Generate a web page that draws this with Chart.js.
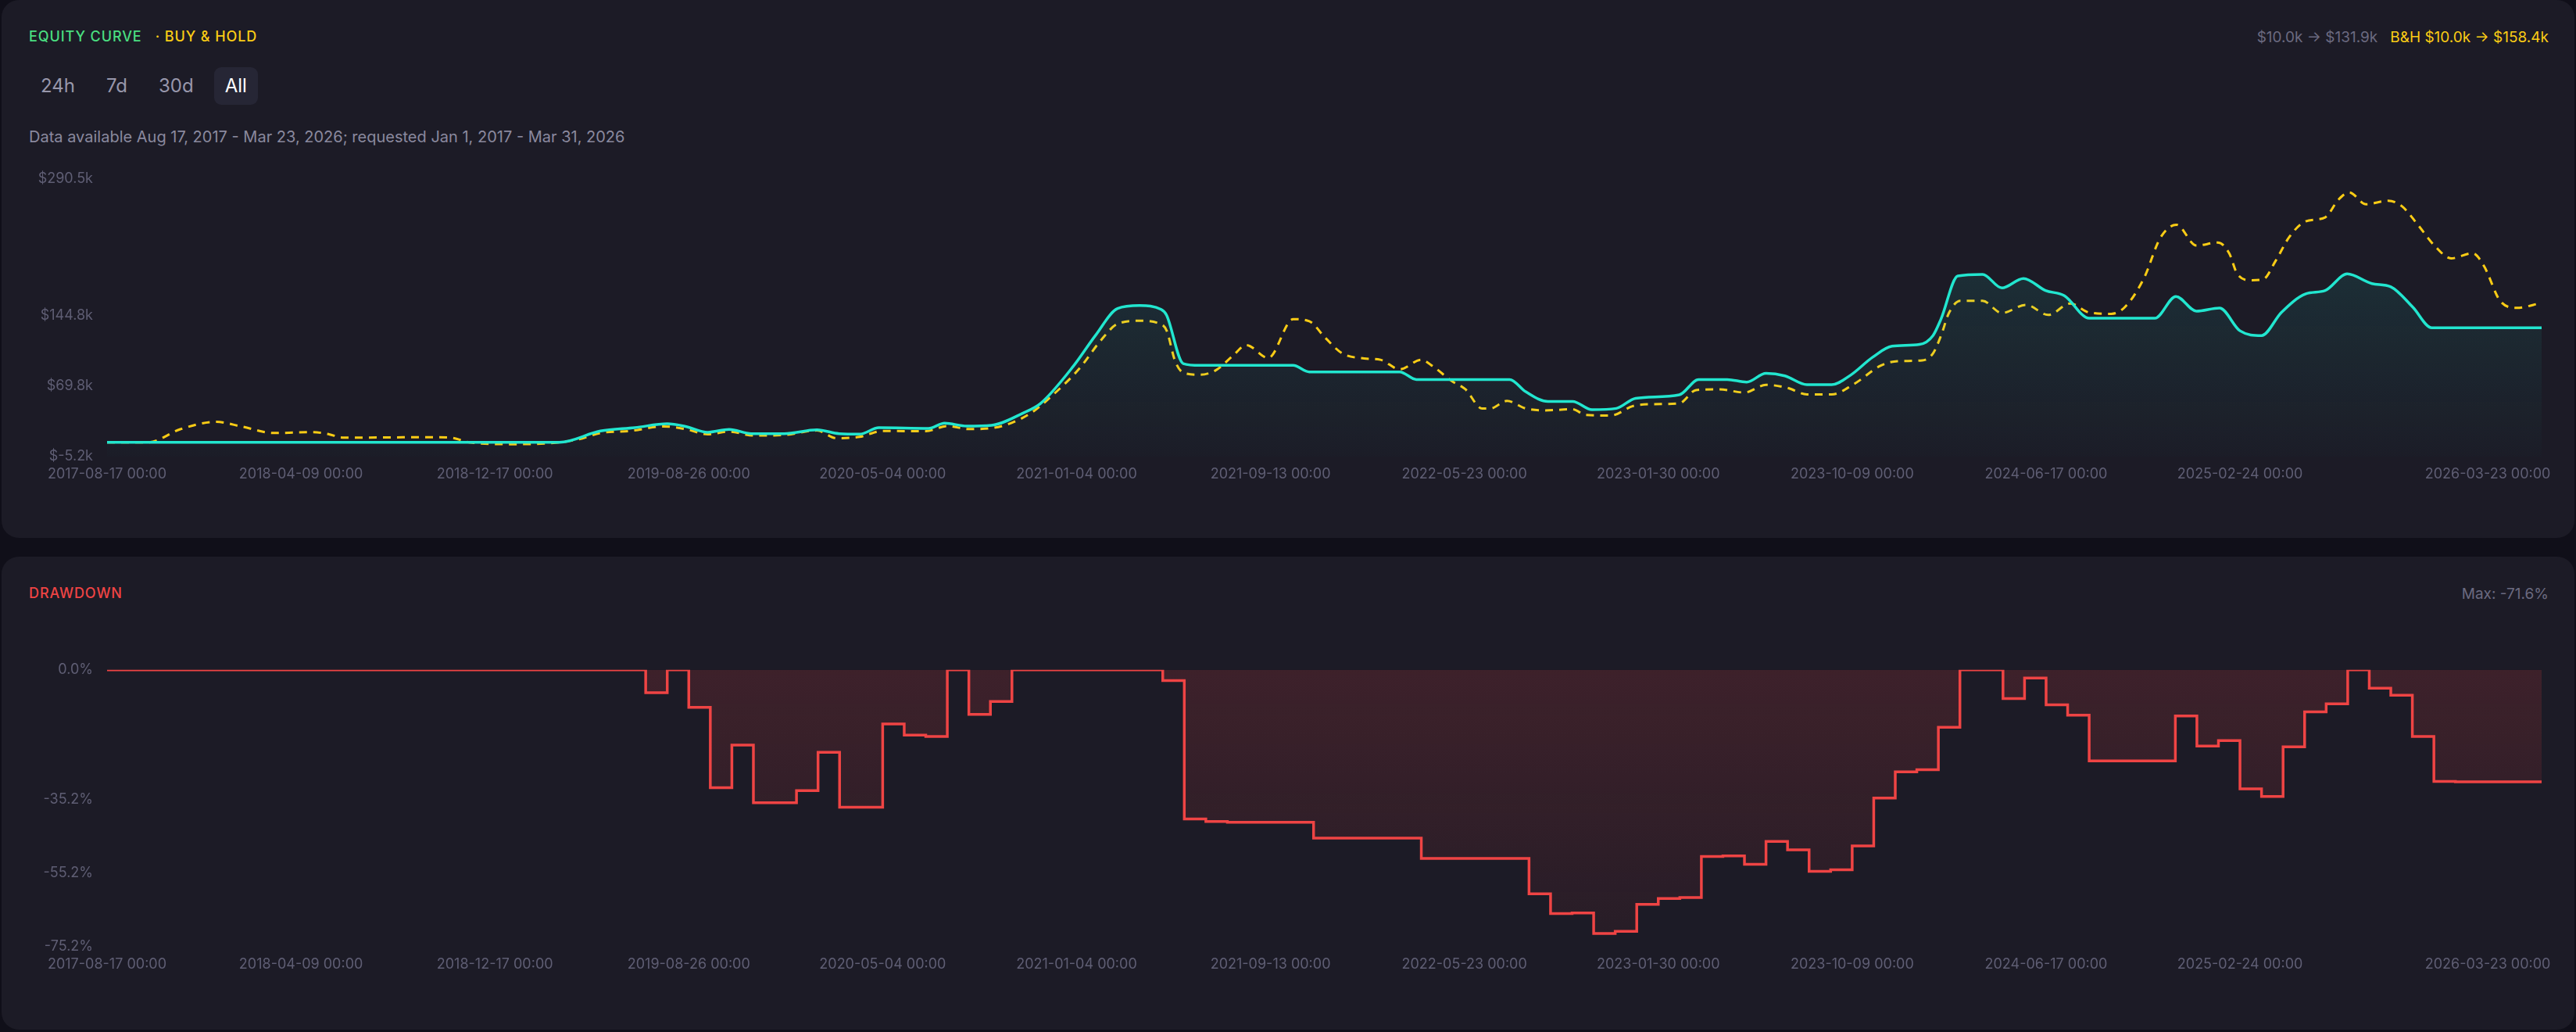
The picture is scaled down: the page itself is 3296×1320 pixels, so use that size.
<!DOCTYPE html>
<html>
<head>
<meta charset="utf-8">
<script src="https://cdn.jsdelivr.net/npm/chart.js@4.4.1/dist/chart.umd.min.js"></script>
<style>
  html, body { margin: 0; padding: 0; background: #100f19; width: 3296px; height: 1320px; overflow: hidden; font-family: Inter, "Noto Sans", sans-serif; }
  .panel { position: absolute; left: 2px; width: 3292px; background: #1c1b26; border-radius: 22px; }
  #top { top: 0; height: 688px; }
  #dd { top: 712px; height: 605px; }
  .title { position: absolute; left: 35px; font-size: 18px; font-weight: 500; letter-spacing: 0.9px; }
  .right { position: absolute; right: 33px; font-size: 19px; color: #6b6a80; }
  .btns { position: absolute; left: 36px; top: 86px; display: flex; }
  .btn { font-size: 24px; color: #9897ab; padding: 0 14px; height: 48px; line-height: 48px; border-radius: 9px; margin-right: 12px; }
  .btn.on { background: #262635; color: #ffffff; }
  .sub { position: absolute; left: 35px; top: 163px; font-size: 20px; color: #8a899e; }
  canvas { position: absolute; left: 0; }
</style>
</head>
<body>
<div class="panel" id="top">
  <div class="title" style="top:36px"><span style="color:#4ade80">EQUITY CURVE</span><span style="color:#facc15">&nbsp;&nbsp;&nbsp;· BUY &amp; HOLD</span></div>
  <div class="right" style="top:36px">$10.0k → $131.9k&nbsp;&nbsp;&nbsp;<span style="color:#facc15">B&amp;H $10.0k → $158.4k</span></div>
  <div class="btns"><div class="btn">24h</div><div class="btn">7d</div><div class="btn">30d</div><div class="btn on">All</div></div>
  <div class="sub">Data available Aug 17, 2017 - Mar 23, 2026; requested Jan 1, 2017 - Mar 31, 2026</div>
</div>
<div class="panel" id="dd">
  <div class="title" style="top:36px;color:#ef4444">DRAWDOWN</div>
  <div class="right" style="top:36px">Max: -71.6%</div>
</div>
<canvas id="eq" width="3296" height="440" style="top:200px"></canvas>
<canvas id="ddc" width="3296" height="440" style="top:828px"></canvas>
<script>
// x axis is in weeks since 2017-08-17
const tickWeeks = [0, 36, 72, 108, 144, 180, 216, 252, 288, 324, 360, 396, 442];
const tickLabels = ["2017-08-17 00:00", "2018-04-09 00:00", "2018-12-17 00:00", "2019-08-26 00:00",
  "2020-05-04 00:00", "2021-01-04 00:00", "2021-09-13 00:00", "2022-05-23 00:00", "2023-01-30 00:00",
  "2023-10-09 00:00", "2024-06-17 00:00", "2025-02-24 00:00", "2026-03-23 00:00"];

// strategy equity, $k
const eqWeeks = [0, 84, 91.6, 98, 104, 107.4, 111.5, 115.5, 119.6, 125.7, 131.8, 135.9, 139.7, 143.3, 152.5,
  155.5, 159.6, 164.2, 170.3, 173.3, 179.4, 183.5, 187.6, 191.7, 195.7, 196.7, 199.8, 202.9, 220.2, 223.2,
  240, 243.1, 260.4, 263.4, 267.5, 272.1, 275.7, 280.2, 283.8, 291.9, 295.5, 300.8, 304.4, 308, 311.5,
  315.6, 320.2, 323.7, 327.8, 331.4, 336.5, 339, 340.5, 343.6, 348.2, 351.8, 355.8, 359.9, 363.4, 368,
  380.2, 384.1, 387.9, 392.2, 396, 400, 403.7, 408.2, 411.8, 415.9, 420.5, 424, 428.1, 431.6, 452];
const eqValues = [10, 10, 22.0, 25.6, 29.7, 26.9, 20.7, 23.8, 19.2, 19.2, 23.3, 19.2, 18.7, 25.5, 24.7,
  30.4, 27.3, 28.1, 41.8, 51.3, 91.0, 123.7, 152.4, 155.6, 151.5, 145.5, 93.8, 91.9, 91.9, 85.0,
  85.0, 76.9, 76.9, 63.8, 53.5, 53.5, 44.7, 46.1, 56.9, 60.6, 76.9, 76.9, 74.1, 83.5, 80.8,
  71.4, 71.4, 81.5, 100.6, 112.3, 114.2, 123.7, 141.4, 187.1, 188.8, 174.4, 184.5, 171.6, 166.1, 142.1,
  142.1, 165.3, 149.7, 153.0, 128.7, 123.7, 148.4, 168.1, 171.6, 189.3, 179.0, 175.6, 153.8, 132.0, 131.9];

// buy & hold, $k
const bhWeeks = [0, 7.6, 13.7, 20.3, 24.9, 31, 38.2, 41.2, 43.7, 59.5, 63.6, 67.6, 75.8, 82.9, 87.5, 91.6,
  97.2, 103.3, 107.4, 111.5, 115.5, 120, 125.7, 131.8, 135.4, 139.7, 144, 152, 156, 160, 164.7, 171.3,
  175.4, 180.5, 184.5, 187.6, 191.7, 195.2, 196.7, 198.3, 199.8, 202.9, 205.9, 209, 211.5, 215.6, 220.2,
  223.2, 226.2, 229.3, 233.4, 236.4, 240, 244, 246.1, 249.7, 252.2, 255.3, 256.8, 259.9, 263.4, 267, 272,
  274.6, 279.2, 283.3, 286.4, 291.9, 295, 299.4, 304, 308, 312, 315.6, 320.2, 324.3, 329.3, 332.4, 337,
  339, 340.5, 342, 344.1, 348.2, 351.8, 356.3, 360.4, 364.5, 368, 372.1, 374.6, 378.2, 381.2, 384.2,
  387.9, 391.9, 394, 395.5, 398, 400.3, 402.6, 405.2, 408.2, 411.8, 414.3, 416.3, 419.4, 423.5, 426,
  429.1, 432.1, 435.2, 439.2, 441.3, 444.3, 447.4, 452];
const bhValues = [10, 10, 24.1, 31.8, 26.9, 19.9, 20.8, 18.6, 15.0, 15.4, 15.0, 9.7, 8.0, 9.4, 13.1, 19.9,
  22.1, 26.9, 24.1, 18.6, 21.4, 17.2, 17.8, 22.6, 14.4, 15.8, 22.1, 21.8, 27.3, 24.1, 25.5, 40.3,
  59.4, 88.4, 118.5, 136.1, 139.4, 136.8, 129.2, 96.4, 84.2, 81.9, 86.9, 102.0, 113.5, 99.9, 141.1,
  138.9, 121.1, 104.8, 99.3, 97.9, 87.8, 97.9, 91.1, 75.1, 66.4, 46.0, 46.0, 54.1, 46.0, 44.0, 45.2,
  39.1, 38.5, 48.6, 50.6, 51.5, 65.6, 66.4, 63.0, 71.2, 67.9, 61.0, 61.0, 71.9, 91.6, 96.4, 97.2,
  104.6, 123.7, 148.2, 160.6, 160.6, 147.7, 156.4, 145.6, 157.8, 148.2, 146.8, 153.8, 185.1, 227.6, 241.7,
  219.5, 222.7, 211.3, 189.3, 182.5, 183.5, 203.0, 229.0, 245.3, 249.5, 268.5, 276.1, 263.5, 267.2, 261.7,
  241.1, 219.5, 205.9, 211.3, 197.7, 160.6, 153.2, 158.4];

// drawdown, % (each value holds until the next week)
const ddWeeks = [0, 100, 104, 108, 112, 116, 120, 128, 132, 136, 144, 148, 152, 156, 160, 164, 168, 196,
  200, 204, 208, 224, 244, 264, 268, 272, 276, 280, 284, 288, 292, 296, 300, 304, 308, 312, 316, 320,
  324, 328, 332, 336, 340, 344, 352, 356, 360, 364, 368, 384, 388, 392, 396, 400, 404, 408, 412, 416,
  420, 424, 428, 432, 436, 452];
const ddValues = [0, -6.2, 0, -10.2, -32.0, -20.4, -36.1, -32.8, -22.4, -37.3, -14.7, -17.7, -18.1, 0,
  -12.1, -8.6, 0, -2.9, -40.5, -41.2, -41.4, -45.7, -51.2, -60.8, -66.2, -66.0, -71.6, -71.0, -63.7,
  -62.1, -61.8, -50.7, -50.5, -52.8, -46.6, -48.9, -54.7, -54.3, -47.8, -34.8, -27.7, -27.1, -15.6, 0,
  -7.8, -2.2, -9.5, -12.3, -24.7, -12.5, -20.7, -19.2, -32.3, -34.4, -20.9, -11.4, -9.2, 0, -5.0, -6.9,
  -18.1, -30.3, -30.4, -30.4];

const eqTicks = [-5.2, 69.8, 144.8, 290.5];
const ddTicks = [-75.2, -55.2, -35.2, 0];

const pts = (xs, ys) => xs.map((x, i) => ({ x: x, y: ys[i] }));
const tickFont = { family: "Inter", size: 18 };
const tickColor = "#5f5e74";

function xAxis() {
  return {
    type: "linear", min: 0, max: 452,
    grid: { display: false, drawTicks: false }, border: { display: false },
    afterBuildTicks: s => { s.ticks = tickWeeks.map(v => ({ value: v })); },
    afterFit: s => { s.height = 40; },
    ticks: {
      autoSkip: false, maxRotation: 0, padding: 12, color: tickColor, font: tickFont,
      callback: v => tickLabels[tickWeeks.indexOf(v)]
    }
  };
}
function yAxis(min, max, ticks, fmt) {
  return {
    min: min, max: max,
    grid: { display: false, drawTicks: false }, border: { display: false },
    afterBuildTicks: s => { s.ticks = ticks.map(v => ({ value: v })); },
    afterFit: s => { s.width = 137; },
    ticks: { padding: 18, color: tickColor, font: tickFont, callback: fmt }
  };
}
function vGrad(ctx, area, top, bottom) {
  const g = ctx.createLinearGradient(0, area.top, 0, area.bottom);
  g.addColorStop(0, top);
  g.addColorStop(1, bottom);
  return g;
}

new Chart(document.getElementById("eq"), {
  type: "line",
  data: {
    datasets: [
      {
        label: "Equity", data: pts(eqWeeks, eqValues),
        borderColor: "#22e6cf", borderWidth: 3.5, pointRadius: 0,
        cubicInterpolationMode: "monotone", fill: "start",
        backgroundColor: c => c.chart.chartArea ? vGrad(c.chart.ctx, c.chart.chartArea, "rgba(34,230,207,0.14)", "rgba(34,230,207,0.01)") : "transparent"
      },
      {
        label: "Buy & Hold", data: pts(bhWeeks, bhValues),
        borderColor: "#facc15", borderWidth: 3, borderDash: [10, 8], pointRadius: 0,
        cubicInterpolationMode: "monotone", fill: false
      }
    ]
  },
  options: {
    responsive: false, animation: false,
    layout: { padding: { left: 0, right: 44, top: 28, bottom: 16 } },
    plugins: { legend: { display: false }, tooltip: { enabled: false } },
    scales: {
      x: xAxis(),
      y: yAxis(-5.2, 290.5, eqTicks, v => "$" + v.toFixed(1) + "k")
    }
  }
});

new Chart(document.getElementById("ddc"), {
  type: "line",
  data: {
    datasets: [{
      label: "Drawdown", data: pts(ddWeeks, ddValues),
      borderColor: "#ef4444", borderWidth: 3.5, pointRadius: 0, stepped: "before",
      fill: "origin",
      backgroundColor: c => c.chart.chartArea ? vGrad(c.chart.ctx, c.chart.chartArea, "rgba(239,68,68,0.16)", "rgba(239,68,68,0.05)") : "transparent"
    }]
  },
  options: {
    responsive: false, animation: false,
    layout: { padding: { left: 0, right: 44, top: 28, bottom: 17 } },
    plugins: { legend: { display: false }, tooltip: { enabled: false } },
    scales: {
      x: xAxis(),
      y: yAxis(-75.2, 0, ddTicks, v => v.toFixed(1) + "%")
    }
  }
});
</script>
</body>
</html>
